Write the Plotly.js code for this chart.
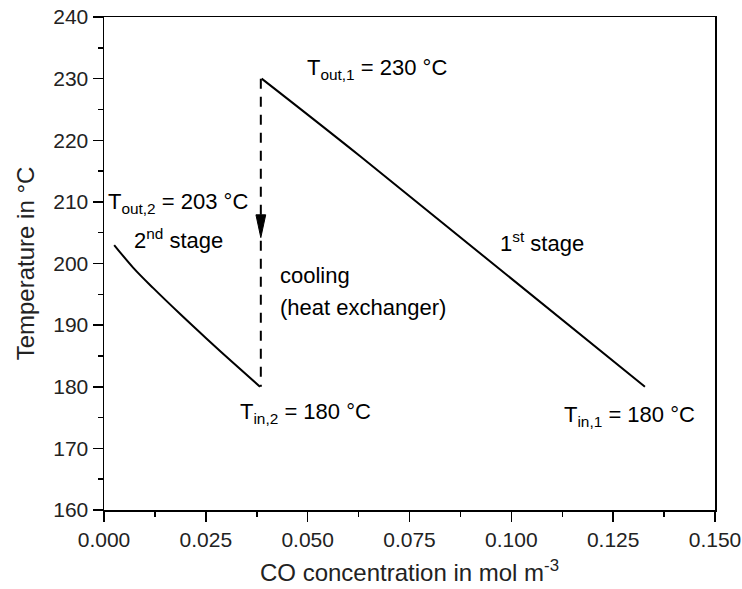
<!DOCTYPE html>
<html>
<head>
<meta charset="utf-8">
<script src="https://cdn.plot.ly/plotly-3.0.1.min.js"></script>
<style>
  html, body { margin: 0; padding: 0; background: #fff; }
  #chart { width: 742px; height: 589px; }
</style>
</head>
<body>
<div id="chart"></div>
<script>
// Temperature profile of the two-stage reactor with intermediate cooling
const stage1X = [0.0387, 0.0629, 0.1328];
const stage1Y = [230, 217.4, 180];

const stage2X = [0.0025, 0.0072, 0.0121, 0.0187, 0.0252, 0.0317, 0.0383];
const stage2Y = [203.0, 199.3, 196.0, 191.8, 187.8, 183.9, 180.0];

const coolingX = [0.0385, 0.0385];
const coolingY = [230, 180];

// arrowhead on the cooling step (tip value, head length in °C, half width in mol m^-3)
const arrowTip = 204.2;
const arrowLength = 3.7;
const arrowHalfWidth = 0.0012;

const xTicks = [0, 0.025, 0.05, 0.075, 0.1, 0.125, 0.15];
const xTickText = ['0.000', '0.025', '0.050', '0.075', '0.100', '0.125', '0.150'];
const yTicks = [160, 170, 180, 190, 200, 210, 220, 230, 240];

const FONT = 'Arial, "Liberation Sans", sans-serif';

const arrowX = [coolingX[0] - arrowHalfWidth, coolingX[0] + arrowHalfWidth, coolingX[0], coolingX[0] - arrowHalfWidth];
const arrowY = [arrowTip + arrowLength, arrowTip + arrowLength, arrowTip, arrowTip + arrowLength];

const traces = [
  { x: stage1X, y: stage1Y, mode: 'lines', line: { color: '#000', width: 2, shape: 'spline', smoothing: 1 }, hoverinfo: 'skip' },
  { x: stage2X, y: stage2Y, mode: 'lines', line: { color: '#000', width: 2, shape: 'spline', smoothing: 1 }, hoverinfo: 'skip' },
  { x: coolingX, y: coolingY, mode: 'lines', line: { color: '#000', width: 2, dash: '10px,8px' }, hoverinfo: 'skip' },
  { x: arrowX, y: arrowY, mode: 'lines', fill: 'toself', fillcolor: '#000', line: { color: '#000', width: 1 }, hoverinfo: 'skip' }
];

const label = (text, x, y) => ({
  text: text, x: x, y: y, xref: 'x', yref: 'y',
  xanchor: 'left', yanchor: 'middle', showarrow: false,
  font: { family: FONT, size: 22, color: '#000' }
});

const annotations = [
  label('T<sub>out,1</sub> = 230 °C', 0.0494, 231.6),
  label('T<sub>out,2</sub> = 203 °C', 0.0005, 209.8),
  label('2<sup>nd</sup> stage', 0.0069, 204.0),
  label('1<sup>st</sup> stage', 0.0967, 203.5),
  label('cooling', 0.0427, 198.0),
  label('(heat exchanger)', 0.0427, 192.8),
  label('T<sub>in,2</sub> = 180 °C', 0.0329, 175.7),
  label('T<sub>in,1</sub> = 180 °C', 0.1124, 175.2)
];

const axisCommon = {
  showgrid: false, zeroline: false,
  showline: true, linecolor: '#000', linewidth: 1.5, mirror: true,
  ticks: 'outside', ticklen: 10, tickwidth: 1.5, tickcolor: '#000',
  tickfont: { family: FONT, size: 21, color: '#222' }
};

const layout = {
  width: 742, height: 589,
  margin: { l: 104, r: 27, t: 17, b: 79 },
  paper_bgcolor: '#fff', plot_bgcolor: '#fff',
  showlegend: false,
  xaxis: Object.assign({}, axisCommon, {
    range: [0, 0.15],
    tickvals: xTicks, ticktext: xTickText,
    minor: { dtick: 0.0125, tick0: 0, ticks: 'outside', ticklen: 5, tickwidth: 1.5, tickcolor: '#000' },
    title: { text: 'CO concentration in mol m<sup>-3</sup>', font: { family: FONT, size: 24, color: '#222' }, standoff: 14 }
  }),
  yaxis: Object.assign({}, axisCommon, {
    range: [160, 240],
    tickvals: yTicks,
    minor: { dtick: 5, tick0: 160, ticks: 'outside', ticklen: 5, tickwidth: 1.5, tickcolor: '#000' },
    title: { text: 'Temperature in °C', font: { family: FONT, size: 24, color: '#222' }, standoff: 12 }
  }),
  annotations: annotations
};

Plotly.newPlot('chart', traces, layout, { staticPlot: true, displayModeBar: false });
</script>
</body>
</html>
